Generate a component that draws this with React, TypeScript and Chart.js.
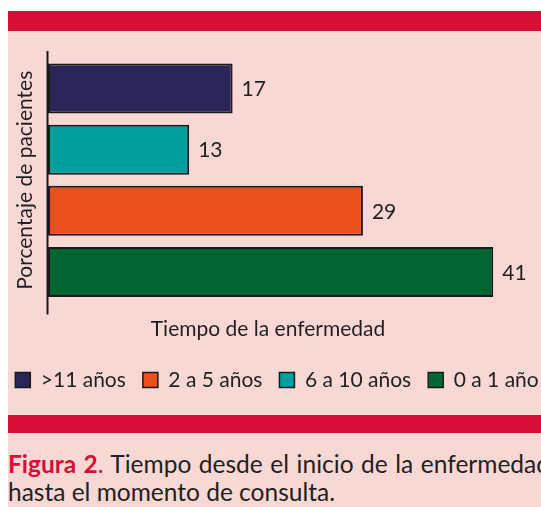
import React, { useEffect, useRef } from 'react';
import { Chart, registerables } from 'chart.js';

Chart.register(...registerables);

// ---- data ----
const categories = ['>11 años', '6 a 10 años', '2 a 5 años', '0 a 1 año'];
const values = [17, 13, 29, 41];
const barColors = ['#2B2659', '#00A19C', '#EA501D', '#016633'];
const legendOrder = ['>11 años', '2 a 5 años', '6 a 10 años', '0 a 1 año'];
const xMax = 47.7;
const yTitle = 'Porcentaje de pacientes';
const xTitle = 'Tiempo de la enfermedad';

const PINK = '#F7D8D4';
const RED = '#D70F37';
const TEXT = '#231F20';
const FONT = 'Lato';

const axisLinePlugin = {
  id: 'axisLine',
  afterDatasetsDraw(chart: any) {
    const { ctx, chartArea } = chart;
    ctx.save();
    ctx.strokeStyle = '#1a1a1a';
    ctx.lineWidth = 2;
    ctx.beginPath();
    ctx.moveTo(chartArea.left - 0.5, chartArea.top - 7);
    ctx.lineTo(chartArea.left - 0.5, chartArea.bottom + 12);
    ctx.stroke();
    ctx.restore();
  },
};

const valueLabelPlugin = {
  id: 'valueLabels',
  afterDatasetsDraw(chart: any) {
    const { ctx } = chart;
    const meta = chart.getDatasetMeta(0);
    ctx.save();
    ctx.fillStyle = TEXT;
    ctx.font = `21px ${FONT}`;
    ctx.textAlign = 'left';
    ctx.textBaseline = 'middle';
    meta.data.forEach((bar: any, i: number) => {
      ctx.fillText(String(values[i]), bar.x + 9, bar.y + 1);
    });
    ctx.restore();
  },
};

const xTitlePlugin = {
  id: 'xTitle',
  afterDraw(chart: any) {
    const { ctx, chartArea } = chart;
    ctx.save();
    ctx.fillStyle = TEXT;
    ctx.font = `21px ${FONT}`;
    ctx.textAlign = 'center';
    ctx.textBaseline = 'middle';
    ctx.fillText(xTitle, chartArea.left + 220, chartArea.bottom + 27);
    ctx.restore();
  },
};

function BarChart() {
  const ref = useRef<HTMLCanvasElement>(null);
  useEffect(() => {
    if (!ref.current) return;
    const chart = new Chart(ref.current, {
      type: 'bar',
      data: {
        labels: categories,
        datasets: [
          {
            data: values,
            backgroundColor: barColors,
            borderColor: '#1b1b1b',
            borderWidth: 2,
            borderSkipped: false,
            barPercentage: 0.82,
            categoryPercentage: 1,
          },
        ],
      },
      options: {
        indexAxis: 'y',
        animation: false,
        responsive: false,
        layout: { padding: { left: 0, right: 0, top: 27, bottom: 14.5 } },
        scales: {
          x: {
            min: 0,
            max: xMax,
            grid: { display: false, drawTicks: false },
            border: { display: false },
            ticks: { display: false },
            afterFit: (scale: any) => {
              scale.height = 50;
            },
          },
          y: {
            grid: { display: false, drawTicks: false },
            border: { display: false },
            ticks: { display: false },
            title: {
              display: true,
              text: yTitle,
              color: TEXT,
              font: { family: FONT, size: 21 },
              padding: { top: 24.4, bottom: 10.4 },
            },
          },
        },
        plugins: {
          tooltip: { enabled: false },
          legend: {
            position: 'bottom',
            onClick: () => {},
            labels: {
              color: TEXT,
              font: { family: FONT, size: 21 },
              boxWidth: 15,
              boxHeight: 15,
              padding: 17,
              generateLabels: () =>
                legendOrder.map((t) => {
                  const i = categories.indexOf(t);
                  return {
                    text: t,
                    fillStyle: barColors[i],
                    strokeStyle: '#1a1a1a',
                    lineWidth: 1.5,
                    hidden: false,
                    index: i,
                    fontColor: TEXT,
                  };
                }),
            },
          },
        },
      },
      plugins: [axisLinePlugin, valueLabelPlugin, xTitlePlugin],
    } as any);
    return () => chart.destroy();
  }, []);
  return (
    <canvas
      ref={ref}
      width={578}
      height={384}
      style={{ display: 'block', marginLeft: -20 }}
    />
  );
}

export default function App() {
  return (
    <div
      style={{
        position: 'fixed',
        left: 8,
        top: 8,
        right: 0,
        bottom: 0,
        overflow: 'hidden',
        background: '#fff',
      }}
    >
      <div style={{ height: 3 }} />
      <div style={{ height: 20, background: RED }} />
      <div style={{ background: PINK, height: 384, overflow: 'hidden' }}>
        <BarChart />
      </div>
      <div style={{ height: 18, background: RED }} />
      <div style={{ background: PINK, height: 120 }}>
        <div
          style={{
            width: 542,
            fontFamily: FONT,
            fontSize: 24.5,
            lineHeight: '28px',
            color: TEXT,
            paddingTop: 16.5,
          }}
        >
          <div style={{ textAlign: 'justify', textAlignLast: 'justify' }}>
            <span style={{ color: RED, fontWeight: 'bold' }}>Figura 2</span>
            <span style={{ color: RED }}>.</span> Tiempo desde el inicio de la enfermedad
          </div>
          <div>hasta el momento de consulta.</div>
        </div>
      </div>
    </div>
  );
}
